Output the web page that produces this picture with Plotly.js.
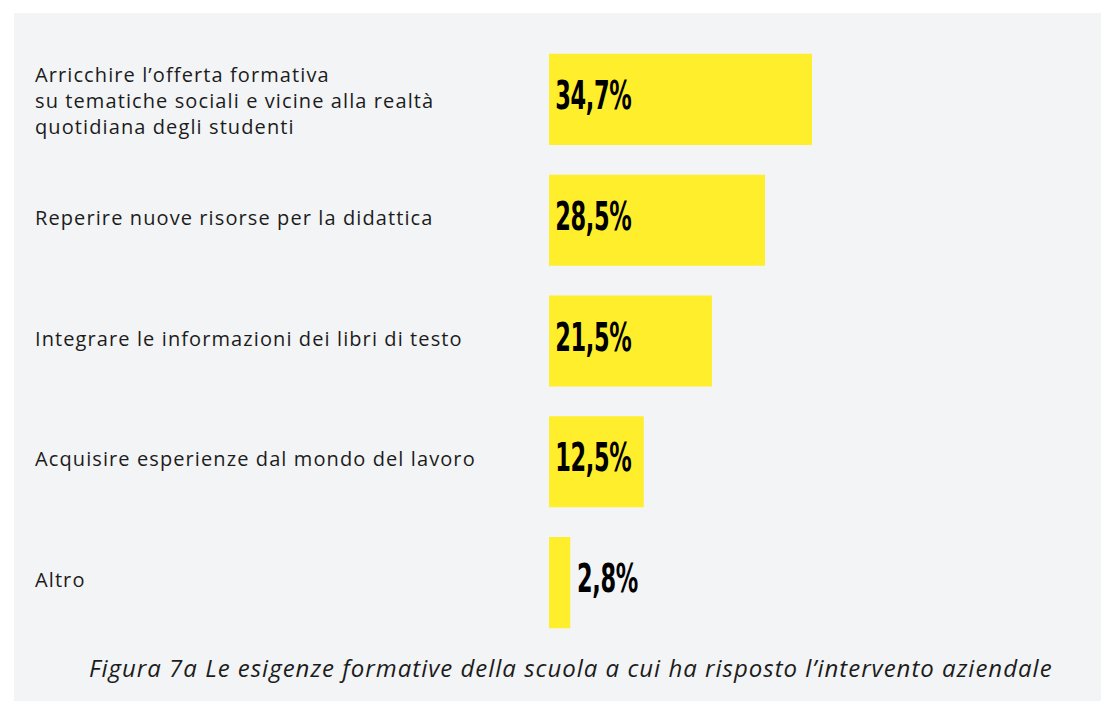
<!DOCTYPE html>
<html>
<head>
<meta charset="utf-8">
<script src="https://cdn.plot.ly/plotly-3.0.1.min.js"></script>
<style>html,body{margin:0;padding:0;background:#fff;}#chart{width:1101px;height:701px;}</style>
</head>
<body>
<div id="chart"></div>
<script>
const categories = [
  "Arricchire l\u2019offerta formativa<br>su tematiche sociali e vicine alla realtà<br>quotidiana degli studenti",
  "Reperire nuove risorse per la didattica",
  "Integrare le informazioni dei libri di testo",
  "Acquisire esperienze dal mondo del lavoro",
  "Altro"
];
const values = [34.7, 28.5, 21.5, 12.5, 2.8];
const labelInside = [true, true, true, true, false];
const caption = "Figura 7a Le esigenze formative della scuola a cui ha risposto l\u2019intervento aziendale";

const W = 1101, H = 701;
const M = {l: 549, r: 97, t: 39, b: 58};
const pw = W - M.l - M.r, ph = H - M.t - M.b;
const px = x => (x - M.l) / pw;
const py = y => 1 - (y - M.t) / ph;

const fmt = v => v.toFixed(1).replace('.', ',') + '%';
const spaced = (s, ls) => s.split('<br>').map(l => '<span style="letter-spacing:' + ls + 'px">' + l + '</span>').join('<br>');
const idx = values.map((_, i) => i);

const trace = {
  type: 'bar',
  orientation: 'h',
  x: values,
  y: idx,
  width: 0.754,
  marker: {color: '#FFEE2B', line: {width: 0}},
  hoverinfo: 'skip'
};

const annotations = [];
idx.forEach(i => {
  const multi = categories[i].indexOf('<br>') >= 0;
  annotations.push({
    xref: 'paper', yref: 'y',
    x: px(33), y: i,
    xanchor: 'left', yanchor: 'middle', align: 'left',
    yshift: multi ? -1 : 3,
    text: spaced(categories[i], 1.1), showarrow: false,
    font: {family: 'Open Sans, sans-serif', size: 20, color: '#1c1c1c'}
  });
  annotations.push({
    xref: 'x', yref: 'y',
    x: labelInside[i] ? 0 : values[i], y: i,
    xanchor: 'left', yanchor: 'middle',
    xshift: labelInside[i] ? 3 : 4, yshift: 4,
    text: fmt(values[i]), showarrow: false,
    font: {family: 'DejaVu Sans Condensed, DejaVu Sans, sans-serif', size: 39, color: '#000', weight: 700}
  });
});
annotations.push({
  xref: 'paper', yref: 'paper',
  x: px(571), y: py(667),
  xanchor: 'center', yanchor: 'middle',
  text: '<i>' + spaced(caption, 1) + '</i>', showarrow: false,
  font: {family: 'Open Sans, sans-serif', size: 24, color: '#1c1c1c'}
});

const layout = {
  width: W, height: H,
  margin: M,
  paper_bgcolor: '#ffffff',
  plot_bgcolor: 'rgba(0,0,0,0)',
  showlegend: false,
  xaxis: {range: [0, pw / 7.58], visible: false, fixedrange: true},
  yaxis: {range: [4.5, -0.5], visible: false, fixedrange: true},
  shapes: [{
    type: 'rect', xref: 'paper', yref: 'paper', layer: 'below',
    x0: px(14), x1: px(1101), y0: py(701), y1: py(13),
    fillcolor: '#F3F4F6', line: {width: 0}
  }],
  annotations: annotations
};

Plotly.newPlot('chart', [trace], layout, {displayModeBar: false, staticPlot: true}).then(() => {
  document.querySelectorAll('#chart .annotation-text').forEach(t => {
    if (/%$/.test(t.textContent.trim())) {
      t.style.transformBox = 'fill-box';
      t.style.transformOrigin = '0 50%';
      t.style.transform = 'scaleX(0.64)';
      t.style.letterSpacing = '-0.5px';
    }
  });
});
</script>
</body>
</html>
